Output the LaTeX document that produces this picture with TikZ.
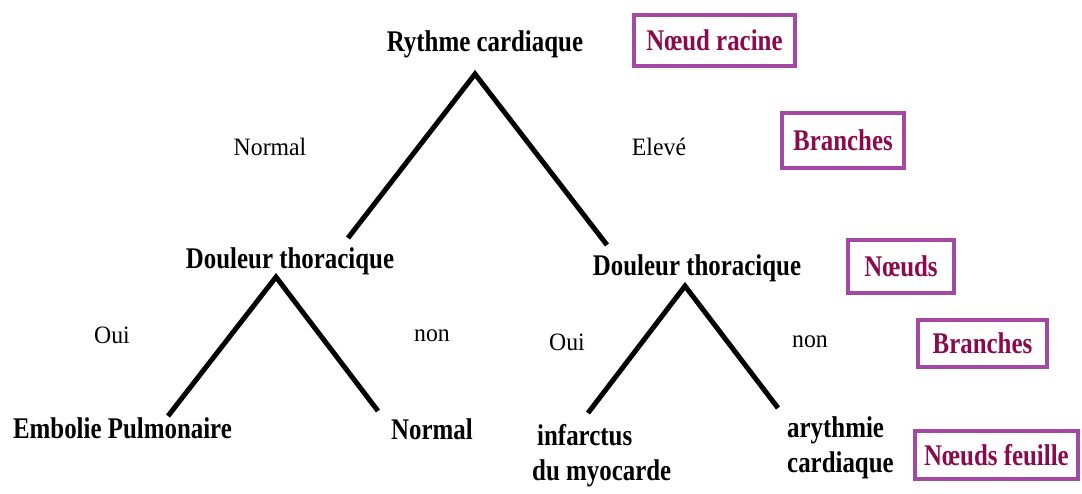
\documentclass[tikz,border=0pt]{standalone}
\usepackage{fontspec}
\setmainfont{Liberation Serif}
\newfontfamily\treebold[FakeStretch=0.83]{Liberation Serif}
\newfontfamily\treereg[FakeStretch=0.95]{Liberation Serif}
\definecolor{boxline}{HTML}{A349A4}
\definecolor{boxtext}{HTML}{8B0A4B}
\begin{document}
\begin{tikzpicture}[x=1pt,y=-1pt,
  lbl/.style={inner sep=0pt,anchor=base,font=\treebold\bfseries\fontsize{30}{35}\selectfont},
  lbltwo/.style={inner sep=0pt,anchor=base west,align=left,font=\treebold\bfseries\fontsize{30}{35}\selectfont},
  edgelbl/.style={inner sep=0pt,anchor=base,font=\treereg\fontsize{25}{30}\selectfont},
  legend/.style={draw=boxline,line width=4pt,inner sep=0pt,text=boxtext,
    font=\treebold\bfseries\fontsize{30}{35}\selectfont},
  branch/.style={line width=5pt}]
\useasboundingbox (0,0) rectangle (1082,493);
% tree nodes
\node[lbl] (root) at (485,51.7) {Rythme cardiaque};
\node[lbl] (dl) at (290,268.3) {Douleur thoracique};
\node[lbl] (dr) at (697,275) {Douleur thoracique};
\node[lbl] (emb) at (122.5,438) {Embolie Pulmonaire};
\node[lbl] (norm) at (432,439) {Normal};
\node[lbltwo] (inf) at (532,480) {\hspace*{5pt}infarctus\\du myocarde};
\node[lbltwo] (ary) at (787,472) {arythmie\\cardiaque};
% edge labels
\node[edgelbl] (lnormal) at (270,155) {Normal};
\node[edgelbl] (leleve) at (659,155) {Elevé};
\node[edgelbl] (loui1) at (112,343.5) {Oui};
\node[edgelbl] (lnon1) at (432,341.5) {non};
\node[edgelbl] (loui2) at (567,350.5) {Oui};
\node[edgelbl] (lnon2) at (810,347.5) {non};
% connector end points
\coordinate (rootA) at (475,74);
\coordinate (rootL) at (348,238);
\coordinate (rootR) at (607,245);
\coordinate (dlA) at (276,277);
\coordinate (dlL) at (168,416);
\coordinate (dlR) at (378,411);
\coordinate (drA) at (685,286);
\coordinate (drL) at (588,413);
\coordinate (drR) at (778,408);
\draw[branch] (rootL) -- (rootA) -- (rootR);
\draw[branch] (dlL) -- (dlA) -- (dlR);
\draw[branch] (drL) -- (drA) -- (drR);
% legend boxes
\node[legend,minimum width=161pt,minimum height=51pt] (kroot) at (714.5,40.5) {Nœud racine};
\node[legend,minimum width=122pt,minimum height=55pt] (kbr1) at (843,140.5) {Branches};
\node[legend,minimum width=106pt,minimum height=53pt] (knodes) at (901,266.5) {Nœuds};
\node[legend,minimum width=129pt,minimum height=47pt] (kbr2) at (982.5,343.5) {Branches};
\node[legend,minimum width=163pt,minimum height=48pt] (kleaf) at (996.5,455) {Nœuds feuille};
\end{tikzpicture}
\end{document}
